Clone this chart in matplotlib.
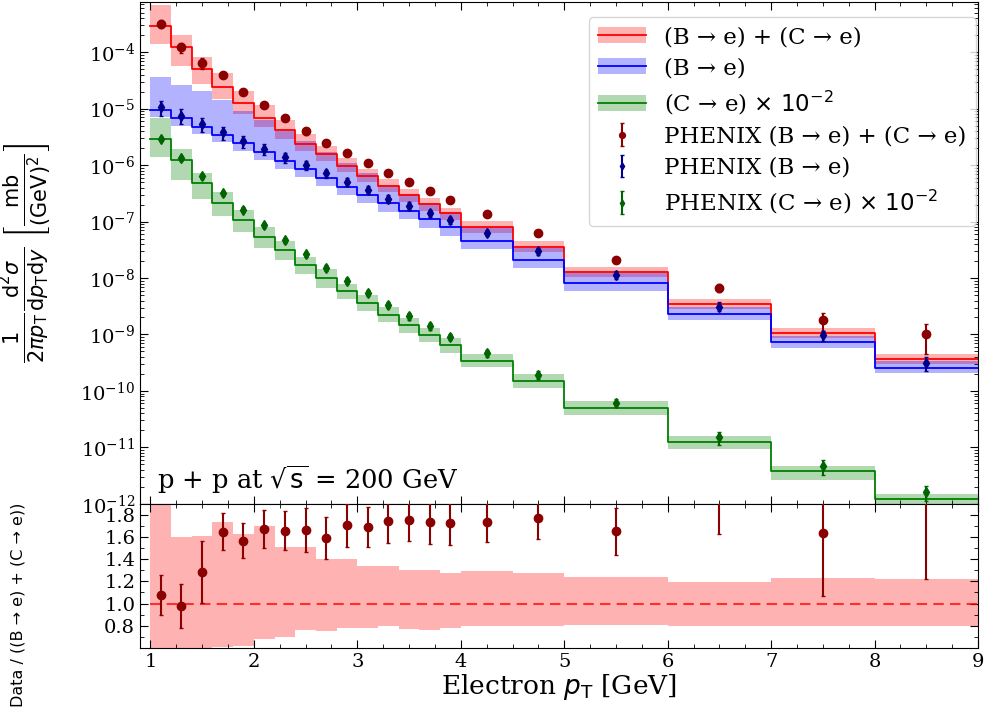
import numpy as np
import matplotlib
matplotlib.use("Agg")
import matplotlib.pyplot as plt
from matplotlib.ticker import MultipleLocator, LogLocator, NullFormatter

plt.rcParams["font.family"] = "serif"
plt.rcParams["font.serif"] = ["DejaVu Serif"]
plt.rcParams["mathtext.fontset"] = "dejavusans"

# pT binning [GeV]
edges = np.array([1.0, 1.2, 1.4, 1.6, 1.8, 2.0, 2.2, 2.4, 2.6, 2.8, 3.0,
                  3.2, 3.4, 3.6, 3.8, 4.0, 4.5, 5.0, 6.0, 7.0, 8.0, 9.0])
centers = 0.5 * (edges[1:] + edges[:-1])

# theory: (B->e)+(C->e)
sum_val = np.array([2.94e-4, 1.256e-4, 5.07e-5, 2.415e-5, 1.276e-5, 6.85e-6, 4.14e-6,
                    2.38e-6, 1.545e-6, 9.6e-7, 6.32e-7, 4.21e-7, 2.90e-7, 2.03e-7,
                    1.39e-7, 7.96e-8, 3.58e-8, 1.27e-8, 3.49e-9, 1.08e-9, 3.74e-10])
sum_hi = np.array([2.35, 1.60, 1.61, 1.74, 1.625, 1.70, 1.51, 1.51, 1.40, 1.40, 1.34,
                   1.34, 1.30, 1.30, 1.275, 1.29, 1.275, 1.24, 1.195, 1.23, 1.22])
sum_lo = np.array([0.48, 0.46, 0.54, 0.61, 0.62, 0.68, 0.70, 0.76, 0.75, 0.78, 0.78,
                   0.80, 0.77, 0.76, 0.78, 0.80, 0.80, 0.805, 0.80, 0.80, 0.80])

# theory: B->e
b_val = np.array([9.59e-6, 6.85e-6, 4.82e-6, 3.48e-6, 2.42e-6, 1.69e-6, 1.18e-6,
                  8.39e-7, 6.0e-7, 4.16e-7, 2.96e-7, 2.11e-7, 1.57e-7, 1.10e-7,
                  7.96e-8, 4.57e-8, 2.11e-8, 8.18e-9, 2.33e-9, 7.26e-10, 2.57e-10])
b_hi = np.array([3.72, 3.86, 4.19, 4.15, 3.80, 3.78, 3.47, 3.16, 2.82, 2.63, 2.40,
                 2.14, 2.0, 1.91, 1.82, 1.72, 1.62, 1.48, 1.32, 1.32, 1.32])
b_lo = np.array([0.74, 0.73, 0.74, 0.73, 0.73, 0.74, 0.73, 0.72, 0.72, 0.72, 0.72,
                 0.71, 0.71, 0.71, 0.70, 0.71, 0.71, 0.73, 0.76, 0.79, 0.81])

# theory: C->e (already x 1e-2)
c_val = np.array([2.92e-6, 1.225e-6, 4.75e-7, 2.17e-7, 1.07e-7, 5.37e-8, 3.09e-8,
                  1.68e-8, 9.9e-9, 5.92e-9, 3.64e-9, 2.26e-9, 1.45e-9, 9.93e-10,
                  6.61e-10, 3.45e-10, 1.51e-10, 5.06e-11, 1.27e-11, 3.8e-12, 1.24e-12])
c_hi = np.array([2.34, 1.55, 1.51, 1.55, 1.51, 1.48, 1.48, 1.41, 1.46, 1.35, 1.40,
                 1.35, 1.36, 1.32, 1.32, 1.32, 1.32, 1.29, 1.23, 1.22, 1.23])
c_lo = np.array([0.47, 0.45, 0.53, 0.58, 0.62, 0.63, 0.68, 0.70, 0.68, 0.72, 0.71,
                 0.75, 0.72, 0.74, 0.72, 0.76, 0.76, 0.74, 0.74, 0.71, 0.71])

# PHENIX data
ph_sum = np.array([3.16e-4, 1.23e-4, 6.50e-5, 3.98e-5, 2.00e-5, 1.144e-5, 6.87e-6,
                   3.96e-6, 2.46e-6, 1.637e-6, 1.068e-6, 7.33e-7, 5.10e-7, 3.52e-7,
                   2.40e-7, 1.385e-7, 6.35e-8, 2.10e-8, 6.77e-9, 1.77e-9, 1.006e-9])
ph_sum_err = np.array([5.3e-5, 2.5e-5, 1.42e-5, 4.0e-6, 2.0e-6, 1.17e-6, 7.4e-7,
                       4.8e-7, 2.9e-7, 1.87e-7, 1.16e-7, 8.0e-8, 5.5e-8, 3.9e-8,
                       2.7e-8, 1.45e-8, 6.8e-9, 2.7e-9, 1.08e-9, 6.2e-10, 5.5e-10])
ph_b = np.array([1.07e-5, 7.53e-6, 5.28e-6, 3.78e-6, 2.65e-6, 1.95e-6, 1.38e-6,
                 1.0e-6, 7.14e-7, 5.1e-7, 3.63e-7, 2.55e-7, 1.92e-7, 1.42e-7,
                 1.06e-7, 6.32e-8, 3.04e-8, 1.15e-8, 3.13e-9, 9.64e-10, 3.18e-10])
ph_b_err = np.array([3.2e-6, 2.26e-6, 1.48e-6, 9.8e-7, 6.6e-7, 4.3e-7, 2.8e-7,
                     1.8e-7, 1.21e-7, 8.2e-8, 5.8e-8, 3.8e-8, 2.9e-8, 2.1e-8,
                     1.6e-8, 8.8e-9, 4.3e-9, 1.8e-9, 5.6e-10, 2.1e-10, 8.9e-11])
ph_c = np.array([2.92e-6, 1.33e-6, 6.4e-7, 3.17e-7, 1.63e-7, 8.53e-8, 4.7e-8,
                 2.63e-8, 1.51e-8, 9.0e-9, 5.46e-9, 3.36e-9, 2.12e-9, 1.39e-9,
                 9.14e-10, 4.72e-10, 1.95e-10, 6.2e-11, 1.5e-11, 4.6e-12, 1.6e-12])
ph_c_err = np.array([2.9e-7, 1.33e-7, 6.4e-8, 3.2e-8, 1.63e-8, 8.5e-9, 4.7e-9,
                     2.6e-9, 1.66e-9, 1.08e-9, 6.6e-10, 4.0e-10, 2.8e-10, 1.8e-10,
                     1.19e-10, 6.6e-11, 2.9e-11, 1.05e-11, 3.8e-12, 1.3e-12, 4.8e-13])


def ext(a):
    # repeat last value so step='post' covers last bin
    return np.append(a, a[-1])


fig = plt.figure(figsize=(9.84, 7.08), dpi=100)
gs = fig.add_gridspec(2, 1, height_ratios=[502, 144], hspace=0,
                      left=0.1423, right=0.994, top=0.997, bottom=0.085)
ax = fig.add_subplot(gs[0])
axr = fig.add_subplot(gs[1], sharex=ax)

handles = []
for val, hi, lo, col, lab in [
        (sum_val, sum_hi, sum_lo, "red", "(B → e) + (C → e)"),
        (b_val, b_hi, b_lo, "blue", "(B → e)"),
        (c_val, c_hi, c_lo, "green", r"(C → e) $\times$ $10^{-2}$")]:
    band = ax.fill_between(edges, ext(val * lo), ext(val * hi), step="post",
                           color=col, alpha=0.3, lw=0, zorder=1)
    line, = ax.step(edges, ext(val), where="post", color=col, lw=1.3, zorder=2)
    handles.append(((band, line), lab))

for y, err, col, mk, ms, lab in [
        (ph_sum, ph_sum_err, "darkred", "o", 6, "PHENIX (B → e) + (C → e)"),
        (ph_b, ph_b_err, "darkblue", "d", 5, "PHENIX (B → e)"),
        (ph_c, ph_c_err, "darkgreen", "d", 5, r"PHENIX (C → e) $\times$ $10^{-2}$")]:
    eb = ax.errorbar(centers, y, yerr=err, fmt=mk, color=col, ms=ms,
                     elinewidth=1.5, capsize=1.5, zorder=3)
    handles.append((eb, lab))

ax.set_yscale("log")
ax.set_ylim(1e-12, 7.7e-4)
ax.set_xlim(0.9, 9.0)
ax.yaxis.set_major_locator(LogLocator(base=10, numticks=20))
ax.yaxis.set_minor_locator(LogLocator(base=10, subs=np.arange(2, 10), numticks=100))
ax.yaxis.set_minor_formatter(NullFormatter())
ax.set_ylabel(r"$\frac{1}{2\pi p_\mathrm{T}}\frac{\mathrm{d}^2\sigma}{\mathrm{d}p_\mathrm{T}\mathrm{d}y}"
              r"\;\left[\frac{\mathrm{mb}}{(\mathrm{GeV})^2}\right]$", fontsize=21.5)
ax.yaxis.set_label_coords(-0.101, 0.5)
ax.text(0.02, 0.015, r"p + p at $\sqrt{\mathrm{s}}$ = 200 GeV", transform=ax.transAxes,
        fontsize=18.5, va="bottom", ha="left")

leg = ax.legend([h for h, _ in handles], [l for _, l in handles], loc="upper right",
                bbox_to_anchor=(1.0, 0.975), borderaxespad=0.1, fontsize=16.5,
                handlelength=2.1, handletextpad=0.8, labelspacing=0.4, markerscale=0.7)

# ratio panel
ratio = ph_sum / sum_val
ratio_err = ph_sum_err / sum_val
axr.fill_between(edges, ext(sum_lo), ext(sum_hi), step="post", color="red",
                 alpha=0.3, lw=0, zorder=1)
axr.plot([edges[0], edges[-1]], [1, 1], color="red", lw=1.5, alpha=0.75,
         dashes=(5, 3), zorder=2)
axr.errorbar(centers, ratio, yerr=ratio_err, fmt="o", color="darkred", ms=6,
             elinewidth=1.5, capsize=1.5, zorder=3)
axr.set_ylim(0.6, 1.9)
axr.yaxis.set_major_locator(MultipleLocator(0.2))
axr.yaxis.set_minor_locator(MultipleLocator(0.1))
axr.set_yticks([0.8, 1.0, 1.2, 1.4, 1.6, 1.8])
axr.set_ylabel("Data / ((B → e) + (C → e))", fontsize=11.5, family="DejaVu Sans")
axr.yaxis.set_label_coords(-0.137, 0.3)
axr.set_xlabel(r"Electron $p_\mathrm{T}$ [GeV]", fontsize=19, labelpad=1)
axr.xaxis.set_major_locator(MultipleLocator(1))
axr.xaxis.set_minor_locator(MultipleLocator(0.25))

for a in (ax, axr):
    a.tick_params(which="both", direction="in", top=True, right=True, labelsize=14)
    a.tick_params(which="major", length=6)
    a.tick_params(which="minor", length=3)
ax.tick_params(labelbottom=False)

fig.savefig("out.png", dpi=100)
